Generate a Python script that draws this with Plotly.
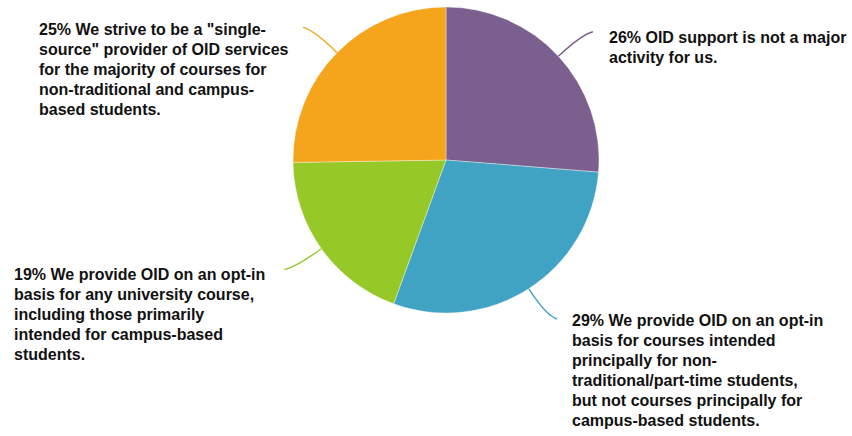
import math
import plotly.graph_objects as go

# ---- data ----
categories = ["not_major", "optin_nontrad", "optin_any", "single_source"]
values = [26, 29, 19, 25]
colors = ["#7b5f8e", "#41a3c3", "#96c828", "#f4a51c"]
label_lines = [
    ["OID support is not a major", "activity for us."],
    ["We provide OID on an opt-in", "basis for courses intended", "principally for non-",
     "traditional/part-time students,", "but not courses principally for", "campus-based students."],
    ["We provide OID on an opt-in", "basis for any university course,", "including those primarily",
     "intended for campus-based", "students."],
    ['We strive to be a "single-', 'source" provider of OID services', "for the majority of courses for",
     "non-traditional and campus-", "based students."],
]

# ---- layout geometry (pixels) ----
W, H = 852, 436
CX, CY, R = 446, 160, 153
label_pos = [(608, 43.3), (571, 326), (13.3, 280), (38, 35.7)]  # left x, first baseline
LINE_H = 20
FS = 16


def px2paper(x, y):
    return x / W, 1 - y / H


fig = go.Figure()
fig.add_trace(go.Pie(
    labels=categories, values=values, sort=False, direction="clockwise", rotation=0,
    marker=dict(colors=colors, line=dict(color="rgba(255,255,255,0.6)", width=0.6)),
    textinfo="none", hoverinfo="skip", showlegend=False,
    domain=dict(x=[(CX - R) / W, (CX + R) / W], y=[1 - (CY + R) / H, 1 - (CY - R) / H]),
))

total = sum(values)
cum = 0
shapes = []
annotations = []
for i, v in enumerate(values):
    mid = (cum + v / 2) / total * 2 * math.pi
    cum += v
    s, c = math.sin(mid), math.cos(mid)
    p0 = (CX + R * s, CY - R * c)
    p1 = (CX + 185 * s, CY - 185 * c)
    sx = 1 if s >= 0 else -1
    p2 = (p1[0] + sx * 11, p1[1] - c * 4)
    a, b, d = px2paper(*p0), px2paper(*p1), px2paper(*p2)
    shapes.append(dict(
        type="path", xref="paper", yref="paper",
        path=f"M {a[0]},{a[1]} Q {b[0]},{b[1]} {d[0]},{d[1]}",
        line=dict(color=colors[i], width=1.4), layer="below",
    ))
    lx, base = label_pos[i]
    for j, line in enumerate(label_lines[i]):
        txt = f"{v}% {line}" if j == 0 else line
        top = base + j * LINE_H - 16.5
        x, y = px2paper(lx - 1, top)
        annotations.append(dict(
            text=txt, x=x, y=y, xref="paper", yref="paper", xanchor="left", yanchor="top",
            showarrow=False, align="left",
            font=dict(family="Liberation Sans, Arial, sans-serif", size=FS, color="#111111",
                      weight="bold"),
        ))

fig.update_layout(
    width=W, height=H, margin=dict(l=0, r=0, t=0, b=0),
    paper_bgcolor="white", plot_bgcolor="white",
    shapes=shapes, annotations=annotations,
)
fig.write_html("out.html", config={"displayModeBar": False},
               post_script="document.body.style.margin='0';")
